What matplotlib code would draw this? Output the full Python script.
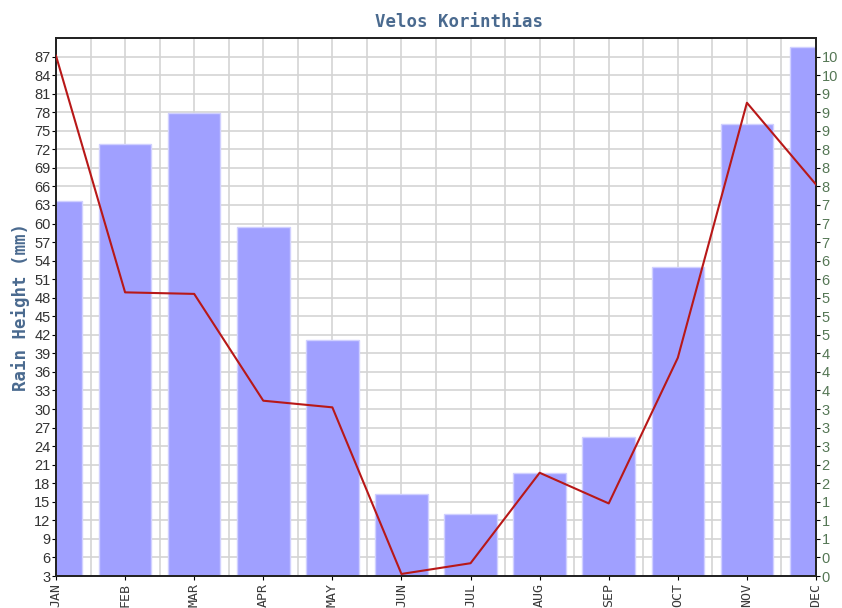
import matplotlib.pyplot as plt
import numpy as np
from matplotlib.ticker import FixedLocator, MultipleLocator, FuncFormatter

months = ['JAN', 'FEB', 'MAR', 'APR', 'MAY', 'JUN', 'JUL', 'AUG', 'SEP', 'OCT', 'NOV', 'DEC']
rain_mm = [63.7, 72.9, 77.9, 59.5, 41.2, 16.2, 13.0, 19.6, 25.4, 53.0, 76.1, 88.5]
line_vals = [10.18, 5.55, 5.52, 3.43, 3.30, 0.04, 0.25, 2.02, 1.42, 4.27, 9.26, 7.66]

right_step = 0.363  # right axis step matching each left gridline

x = np.arange(len(months))

fig = plt.figure(figsize=(8.42, 6.08), dpi=100)
ax = fig.add_axes([56/842, 1-576/608, (816-56)/842, (576-38)/608])

ax.bar(x, rain_mm, width=0.76, color='#a0a0ff', edgecolor='#d0d0ff', linewidth=1, zorder=2)
ax.set_xlim(0, 11)
ax.set_ylim(3, 90)
ax.set_yticks(np.arange(3, 88, 3))
ax.set_xticks(x)
ax.set_xticklabels(months, rotation=90, family='DejaVu Sans Mono', fontsize=9.5, color='#3a3a3a')
ax.xaxis.set_minor_locator(MultipleLocator(0.5))
ax.tick_params(axis='x', which='minor', length=0)
ax.tick_params(axis='x', which='major', length=3, pad=2)
ax.tick_params(axis='y', length=3, pad=1, labelsize=10.5, labelcolor='#333333')
for lab in ax.get_yticklabels():
    lab.set_family('Liberation Sans')
ax.set_axisbelow(True)
ax.grid(True, which='both', axis='x', color='#d4d4d4', linewidth=1.2)
ax.grid(True, which='major', axis='y', color='#d4d4d4', linewidth=1.2)

ax.set_ylabel('Rain Height (mm)', family='DejaVu Sans Mono', fontweight='bold',
              fontsize=12.5, color='#4a6a8f', labelpad=3)
fig.text(459/842, 1-22/608, 'Velos Korinthias', family='DejaVu Sans Mono', fontweight='bold',
         fontsize=12.5, color='#4a6a8f', ha='center', va='center')

ax2 = ax.twinx()
ax2.plot(x, line_vals, color='#b81818', linewidth=1.5, zorder=3)
ax2.set_ylim(0, 29 * right_step)
ax2.yaxis.set_major_locator(FixedLocator([i * right_step for i in range(29)]))
ax2.yaxis.set_major_formatter(FuncFormatter(lambda v, p: '%.0f' % v))
ax2.tick_params(axis='y', length=3, pad=1, labelsize=10.5, labelcolor='#557755')
for lab in ax2.get_yticklabels():
    lab.set_family('Liberation Sans')

for a in (ax, ax2):
    for s in a.spines.values():
        s.set_color('#222222')
        s.set_linewidth(1.3)

fig.savefig('out.png', dpi=100)
